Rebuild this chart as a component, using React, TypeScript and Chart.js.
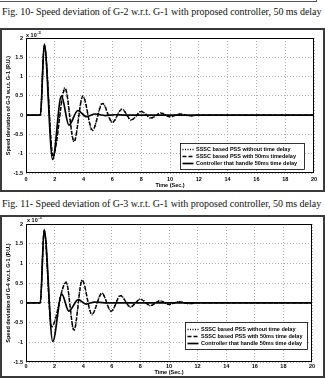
import React, { useEffect, useRef } from "react";
import { Chart, registerables } from "chart.js";

Chart.register(...registerables);

// ---------- shared axis data ----------
const X_TICKS = [0, 2, 4, 6, 8, 10, 12, 14, 16, 18, 20];
const X_TICK_LABELS = ["0", "2", "4", "6", "8", "10", "12", "14", "16", "18", "20"];
const Y_TICKS = [-1.5, -1, -0.5, 0, 0.5, 1, 1.5, 2];
const Y_TICK_LABELS = ["-1.5", "-1", "-0.5", "0", "0.5", "1", "1.5", "2"];

const CAPTION_1 = "Fig. 10- Speed deviation of G-2 w.r.t. G-1 with proposed controller, 50 ms delay";
const CAPTION_2 = "Fig. 11- Speed deviation of G-3 w.r.t. G-1 with proposed controller, 50 ms delay";
const YLABEL_1 = "Speed deviation of G-3 w.r.t. G-1 (P.U.)";
const YLABEL_2 = "Speed deviation of G-4 w.r.t. G-1 (P.U.)";
const XLABEL = "Time (Sec.)";
const MULTIPLIER = "x 10";
const MULTIPLIER_EXP = "-3";

const LEGEND_1 = [
  "SSSC based PSS without time delay",
  "SSSC based PSS with 50ms timedelay",
  "Controller that handle 50ms time delay",
];
const LEGEND_2 = [
  "SSSC based PSS without time delay",
  "SSSC based PSS with 50ms time delay",
  "Controller that handle 50ms time delay",
];

// ---------- Fig. 10 series (x 10^-3 p.u.) ----------
const F10_NODELAY_T = [0, 1.0, 1.27, 1.87, 2.7, 3.33, 3.94, 4.6, 5.3, 6.0, 6.65, 7.3, 8.0, 8.7, 9.35, 10.0, 10.7, 11.4, 12.0, 20];
const F10_NODELAY_V = [0, 0, 1.82, -1.06, 0.71, -0.69, 0.5, -0.4, 0.31, -0.19, 0.16, -0.13, 0.1, -0.08, 0.06, -0.04, 0.03, -0.02, 0, 0];
const F10_DELAY_T = [0, 1.0, 1.27, 1.88, 2.72, 3.34, 3.95, 4.62, 5.32, 6.0, 6.66, 7.32, 8.0, 8.7, 9.36, 10.0, 10.7, 11.4, 12.0, 20];
const F10_DELAY_V = [0, 0, 1.81, -1.04, 0.69, -0.68, 0.49, -0.39, 0.3, -0.18, 0.15, -0.12, 0.09, -0.07, 0.05, -0.04, 0.03, -0.02, 0, 0];
const F10_CTRL_T = [0, 1.0, 1.27, 1.85, 2.46, 2.98, 3.6, 4.2, 4.8, 5.5, 6.2, 7.0, 20];
const F10_CTRL_V = [0, 0, 1.84, -1.15, 0.5, -0.26, 0.12, -0.04, 0.03, -0.01, 0.01, 0, 0];

// ---------- Fig. 11 series (x 10^-3 p.u.) ----------
const F11_NODELAY_T = [0, 1.0, 1.27, 1.78, 2.8, 3.35, 3.92, 4.6, 5.3, 5.95, 6.6, 7.3, 8.0, 8.7, 9.35, 10.0, 10.7, 11.4, 12.0, 20];
const F11_NODELAY_V = [0, 0, 1.84, -0.62, 0.53, -0.7, 0.58, -0.3, 0.25, -0.22, 0.19, -0.11, 0.1, -0.07, 0.05, -0.04, 0.03, -0.02, 0, 0];
const F11_DELAY_T = [0, 1.0, 1.27, 1.79, 2.81, 3.36, 3.93, 4.61, 5.31, 5.96, 6.61, 7.31, 8.0, 8.7, 9.36, 10.0, 10.7, 11.4, 12.0, 20];
const F11_DELAY_V = [0, 0, 1.83, -0.6, 0.52, -0.69, 0.57, -0.29, 0.24, -0.21, 0.18, -0.1, 0.09, -0.07, 0.05, -0.04, 0.03, -0.02, 0, 0];
const F11_CTRL_T = [0, 1.0, 1.27, 1.87, 2.5, 3.0, 3.65, 4.2, 4.8, 5.5, 20];
const F11_CTRL_V = [0, 0, 1.86, -0.98, 0.22, -0.21, 0.08, -0.03, 0.02, 0, 0];
const F11_MARK_T = [10, 20, 0, 20];
const F11_MARK_V = [2, 2, 0.27, 0.27];

const FONT = '"Liberation Sans", Arial, sans-serif';

const toXY = (t: number[], v: number[]) => t.map((x, i) => ({ x, y: v[i] }));

const plotPlugin = {
  id: "plotFrame",
  afterDraw(chart: any, _args: any, opts: any) {
    const { ctx, chartArea: ca } = chart;
    ctx.save();
    ctx.setLineDash([]);
    ctx.strokeStyle = "#000";
    ctx.lineWidth = 1;
    ctx.strokeRect(Math.round(ca.left) + 0.5, Math.round(ca.top) + 0.5, Math.round(ca.right - ca.left) - 1, Math.round(ca.bottom - ca.top) - 1);

    // multiplier
    ctx.fillStyle = "#000";
    ctx.textBaseline = "alphabetic";
    ctx.textAlign = "left";
    ctx.font = `bold 5.5px ${FONT}`;
    const mx = ca.left + opts.multDx;
    const my = ca.top + opts.multDy;
    ctx.fillText(MULTIPLIER, mx, my);
    const w = ctx.measureText(MULTIPLIER).width;
    ctx.font = `bold 4px ${FONT}`;
    ctx.fillText(MULTIPLIER_EXP, mx + w + 0.5, my - 3);

    // legend
    const lg = opts.legend;
    const x0 = Math.round(ca.right - lg.right - lg.width) + 0.5;
    const y0 = Math.round(ca.bottom - lg.bottom - lg.height) + 0.5;
    ctx.fillStyle = "#fff";
    ctx.fillRect(x0, y0, lg.width, lg.height);
    ctx.strokeStyle = "#000";
    ctx.lineWidth = 0.8;
    ctx.strokeRect(x0, y0, lg.width, lg.height);
    ctx.font = `bold 5.5px ${FONT}`;
    ctx.textBaseline = "middle";
    const items = chart.data.datasets.filter((d: any) => d.inLegend);
    items.forEach((d: any, i: number) => {
      const ry = y0 + lg.rowTop + i * lg.rowGap;
      ctx.strokeStyle = d.borderColor;
      ctx.lineWidth = d.borderWidth;
      ctx.setLineDash(d.borderDash || []);
      ctx.beginPath();
      ctx.moveTo(x0 + 2, ry);
      ctx.lineTo(x0 + 2 + lg.sample, ry);
      ctx.stroke();
      ctx.setLineDash([]);
      ctx.fillStyle = "#000";
      ctx.fillText(lg.labels[i], x0 + 3 + lg.sample + 1.5, ry + 0.3);
    });
    ctx.restore();
  },
};

type Geom = {
  w: number;
  h: number;
  padTop: number;
  padRight: number;
  xAxisH: number;
  yAxisW: number;
  xTickPad: number;
  xTitlePad: number;
  multDx: number;
  multDy: number;
  legend: any;
};

function SpeedChart({ datasets, ylabel, geom }: { datasets: any[]; ylabel: string; geom: Geom }) {
  const ref = useRef<HTMLCanvasElement | null>(null);
  useEffect(() => {
    if (!ref.current) return;
    const tickFont = { family: FONT, size: 5.5, weight: "bold" as const };
    const chart = new Chart(ref.current, {
      type: "line",
      data: { datasets },
      options: {
        animation: false,
        responsive: false,
        maintainAspectRatio: false,
        layout: { padding: { left: 0, right: geom.padRight, top: geom.padTop, bottom: 0 } },
        plugins: {
          legend: { display: false },
          tooltip: { enabled: false },
          plotFrame: { multDx: geom.multDx, multDy: geom.multDy, legend: geom.legend },
        } as any,
        elements: { point: { radius: 0 } },
        scales: {
          x: {
            type: "linear",
            min: 0,
            max: 20,
            afterBuildTicks: (s: any) => {
              s.ticks = X_TICKS.map((v) => ({ value: v }));
            },
            afterFit: (s: any) => {
              s.height = geom.xAxisH;
            },
            ticks: {
              autoSkip: false,
              maxRotation: 0,
              padding: geom.xTickPad,
              color: "#000",
              font: tickFont,
              callback: (v: any) => X_TICK_LABELS[X_TICKS.indexOf(Number(v))] ?? "",
            },
            grid: { color: "#9a9a9a", lineWidth: 0.8, drawTicks: false },
            border: { display: false, dash: [1, 2] },
            title: {
              display: true,
              text: XLABEL,
              color: "#000",
              font: tickFont,
              padding: { top: 0, bottom: geom.xTitlePad },
            },
          },
          y: {
            type: "linear",
            min: -1.5,
            max: 2,
            afterBuildTicks: (s: any) => {
              s.ticks = Y_TICKS.map((v) => ({ value: v }));
            },
            afterFit: (s: any) => {
              s.width = geom.yAxisW;
            },
            ticks: {
              autoSkip: false,
              padding: 3,
              color: "#000",
              font: tickFont,
              callback: (v: any) => Y_TICK_LABELS[Y_TICKS.indexOf(Number(v))] ?? "",
            },
            grid: { color: "#9a9a9a", lineWidth: 0.8, drawTicks: false },
            border: { display: false, dash: [1, 2] },
            title: {
              display: true,
              text: ylabel,
              color: "#000",
              font: tickFont,
              padding: { top: 3, bottom: 0 },
            },
          },
        },
      },
      plugins: [plotPlugin],
    });
    return () => chart.destroy();
  }, []);
  return <canvas ref={ref} width={geom.w} height={geom.h} style={{ display: "block" }} />;
}

const lineDs = (label: string, t: number[], v: number[], style: "dot" | "dash" | "solid") => ({
  label,
  data: toXY(t, v),
  inLegend: true,
  borderColor: "#000",
  borderWidth: style === "solid" ? 1.7 : 1.4,
  borderDash: style === "dot" ? [1, 1.5] : style === "dash" ? [4, 2] : [],
  cubicInterpolationMode: "monotone",
  pointRadius: 0,
  fill: false,
  order: style === "solid" ? 0 : style === "dash" ? 1 : 2,
});

export default function App() {
  const ds1 = [
    lineDs(LEGEND_1[0], F10_NODELAY_T, F10_NODELAY_V, "dot"),
    lineDs(LEGEND_1[1], F10_DELAY_T, F10_DELAY_V, "dash"),
    lineDs(LEGEND_1[2], F10_CTRL_T, F10_CTRL_V, "solid"),
  ];
  const ds2 = [
    lineDs(LEGEND_2[0], F11_NODELAY_T, F11_NODELAY_V, "dot"),
    lineDs(LEGEND_2[1], F11_DELAY_T, F11_DELAY_V, "dash"),
    lineDs(LEGEND_2[2], F11_CTRL_T, F11_CTRL_V, "solid"),
    {
      label: "marks",
      data: toXY(F11_MARK_T, F11_MARK_V),
      inLegend: false,
      showLine: false,
      pointRadius: 1.1,
      pointStyle: "rect",
      backgroundColor: "#333",
      borderColor: "#333",
      borderWidth: 0,
    },
  ];

  const capStyle: React.CSSProperties = {
    position: "absolute",
    left: 2,
    fontFamily: '"Liberation Serif", "Times New Roman", serif',
    fontSize: 10,
    lineHeight: "12px",
    whiteSpace: "nowrap",
    color: "#111",
    letterSpacing: -0.02,
  };
  const boxStyle: React.CSSProperties = {
    position: "absolute",
    left: 0,
    width: 321,
    border: "2px solid #3a3a3a",
    background: "#fff",
  };

  return (
    <div style={{ position: "absolute", left: 0, top: 0, width: 325, height: 379, background: "#fff", overflow: "hidden" }}>
      <div style={{ position: "absolute", left: -2, top: -6, width: 318, height: 7, borderBottom: "1.5px solid #555", borderRight: "1.5px solid #555" }} />
      <div style={{ ...capStyle, top: 6 }}>{CAPTION_1}</div>
      <div style={{ ...boxStyle, top: 28, height: 160 }}>
        <SpeedChart
          datasets={ds1}
          ylabel={YLABEL_1}
          geom={{
            w: 321,
            h: 160,
            padTop: 8,
            padRight: 9,
            xAxisH: 17,
            yAxisW: 24,
            xTickPad: 3,
            xTitlePad: 1,
            multDx: 0,
            multDy: -1,
            legend: { labels: LEGEND_1, width: 124, height: 26, right: 10, bottom: 4, rowTop: 6, rowGap: 7, sample: 11 },
          }}
        />
      </div>
      <div style={{ ...capStyle, top: 198 }}>{CAPTION_2}</div>
      <div style={{ ...boxStyle, top: 215, height: 159 }}>
        <SpeedChart
          datasets={ds2}
          ylabel={YLABEL_2}
          geom={{
            w: 321,
            h: 159,
            padTop: 7,
            padRight: 11,
            xAxisH: 14,
            yAxisW: 24,
            xTickPad: 1,
            xTitlePad: 0,
            multDx: 1,
            multDy: -2,
            legend: { labels: LEGEND_2, width: 122, height: 27, right: 5, bottom: 13, rowTop: 7, rowGap: 7, sample: 11 },
          }}
        />
      </div>
    </div>
  );
}
